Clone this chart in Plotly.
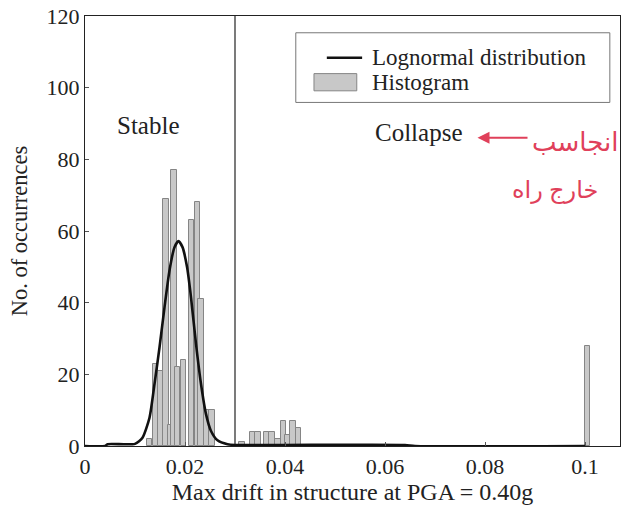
import plotly.graph_objects as go

# Histogram of maximum drift (bar centres and counts)
drift_bins = [0.0129, 0.0141, 0.0152, 0.0162, 0.0171, 0.0178, 0.0185, 0.0197,
              0.0213, 0.0225, 0.0232, 0.0244, 0.0254,
              0.0314, 0.0336, 0.0346, 0.0364, 0.0374, 0.0386, 0.0397, 0.0406, 0.0416, 0.0427,
              0.1005]
counts = [2, 23, 21, 69, 6, 77, 22, 24,
          63, 68, 41, 10, 10,
          1, 4, 4, 4, 4, 2, 7, 3, 7, 5,
          28]

# Fitted lognormal curve (read points)
curve_x = [0.0, 0.004, 0.0045, 0.0100, 0.0115, 0.0129, 0.0139, 0.0149, 0.0159, 0.0169,
           0.0179, 0.0187, 0.0195, 0.0204, 0.0212, 0.0222, 0.0232, 0.0242, 0.0252,
           0.0265, 0.0285, 0.0300, 0.0400, 0.0640, 0.0660, 0.1000]
curve_y = [0.0, 0.0, 0.5, 0.6, 2.3, 7.9, 17.3, 27.5, 38.7, 49.0,
           55.5, 57.2, 55.5, 50.0, 41.5, 28.5, 17.3, 8.9, 4.2,
           1.6, 0.5, 0.3, 0.3, 0.3, 0.0, 0.0]

x_ticks = [0, 0.02, 0.04, 0.06, 0.08, 0.1]
x_tick_text = ["0", "0.02", "0.04", "0.06", "0.08", "0.1"]
y_ticks = [0, 20, 40, 60, 80, 100, 120]

limit_drift = 0.03

serif = "Liberation Serif, Times New Roman, serif"
ink = "#222222"
red = "#e0405a"
bar_fill = "#c8c8c8"
bar_edge = "#858585"

fig = go.Figure()

fig.add_trace(go.Scatter(
    x=curve_x, y=curve_y, mode="lines", name="Lognormal distribution",
    line=dict(color="#111111", width=2.6, shape="spline", smoothing=0.6),
))

fig.add_trace(go.Bar(
    x=drift_bins, y=counts, width=[0.0011] * len(drift_bins), name="Histogram",
    marker=dict(color=bar_fill, line=dict(color=bar_edge, width=1)),
))

# Stable / collapse divider
fig.add_shape(type="line", x0=limit_drift, x1=limit_drift, y0=0, y1=120,
              xref="x", yref="y", line=dict(color=ink, width=1.2), layer="below")

fig.add_annotation(x=0.0127, y=89.5, text="Stable", showarrow=False,
                   font=dict(family=serif, size=25, color=ink))
fig.add_annotation(x=0.0668, y=87.5, text="Collapse", showarrow=False,
                   font=dict(family=serif, size=25, color=ink))

# Red hand-written note with arrow
fig.add_annotation(x=0.0785, y=86, ax=0.0888, ay=86, xref="x", yref="y",
                   axref="x", ayref="y", text="", showarrow=True,
                   arrowhead=2, arrowsize=1.2, arrowwidth=2, arrowcolor=red)
fig.add_annotation(x=0.098, y=85, text="انجاسب", showarrow=False,
                   font=dict(family="Noto Sans, DejaVu Sans", size=26, color=red))
fig.add_annotation(x=0.094, y=72, text="خارج راه", showarrow=False,
                   font=dict(family="Noto Sans, DejaVu Sans", size=24, color=red))

# Legend box drawn in paper coordinates
fig.add_shape(type="rect", xref="paper", yref="paper", x0=0.394, x1=0.981,
              y0=0.799, y1=0.961, line=dict(color="#777777", width=1),
              fillcolor="white", layer="above")
fig.add_shape(type="line", xref="paper", yref="paper", x0=0.452, x1=0.518,
              y0=0.903, y1=0.903, line=dict(color="#111111", width=2.6), layer="above")
fig.add_shape(type="rect", xref="paper", yref="paper", x0=0.428, x1=0.508,
              y0=0.826, y1=0.866, line=dict(color=bar_edge, width=1),
              fillcolor=bar_fill, layer="above")
fig.add_annotation(xref="paper", yref="paper", x=0.533, y=0.903, xanchor="left",
                   yanchor="middle", text="Lognormal distribution", showarrow=False,
                   font=dict(family=serif, size=23, color=ink))
fig.add_annotation(xref="paper", yref="paper", x=0.533, y=0.846, xanchor="left",
                   yanchor="middle", text="Histogram", showarrow=False,
                   font=dict(family=serif, size=23, color=ink))

fig.update_layout(
    width=634, height=513,
    margin=dict(l=85, r=14, t=16, b=67),
    paper_bgcolor="white", plot_bgcolor="white",
    barmode="overlay", bargap=0,
    font=dict(family=serif, size=22, color=ink),
    showlegend=False,
    xaxis=dict(range=[0, 0.107], tickvals=x_ticks, ticktext=x_tick_text,
               showgrid=False, zeroline=False, showline=True, mirror=True,
               linecolor=ink, linewidth=1.3, ticks="inside", ticklen=4,
               tickcolor="#555555", automargin=False,
               title=dict(text="Max drift in structure at PGA = 0.40g",
                          font=dict(family=serif, size=24), standoff=0),
               tickfont=dict(family=serif, size=22)),
    yaxis=dict(range=[0, 120], tickvals=y_ticks,
               showgrid=False, zeroline=False, showline=True, mirror=True,
               linecolor=ink, linewidth=1.3, ticks="inside", ticklen=4,
               tickcolor="#555555", automargin=False,
               title=dict(text="No. of occurrences",
                          font=dict(family=serif, size=22.5), standoff=12),
               tickfont=dict(family=serif, size=22)),
)

fig.write_html("out.html")
